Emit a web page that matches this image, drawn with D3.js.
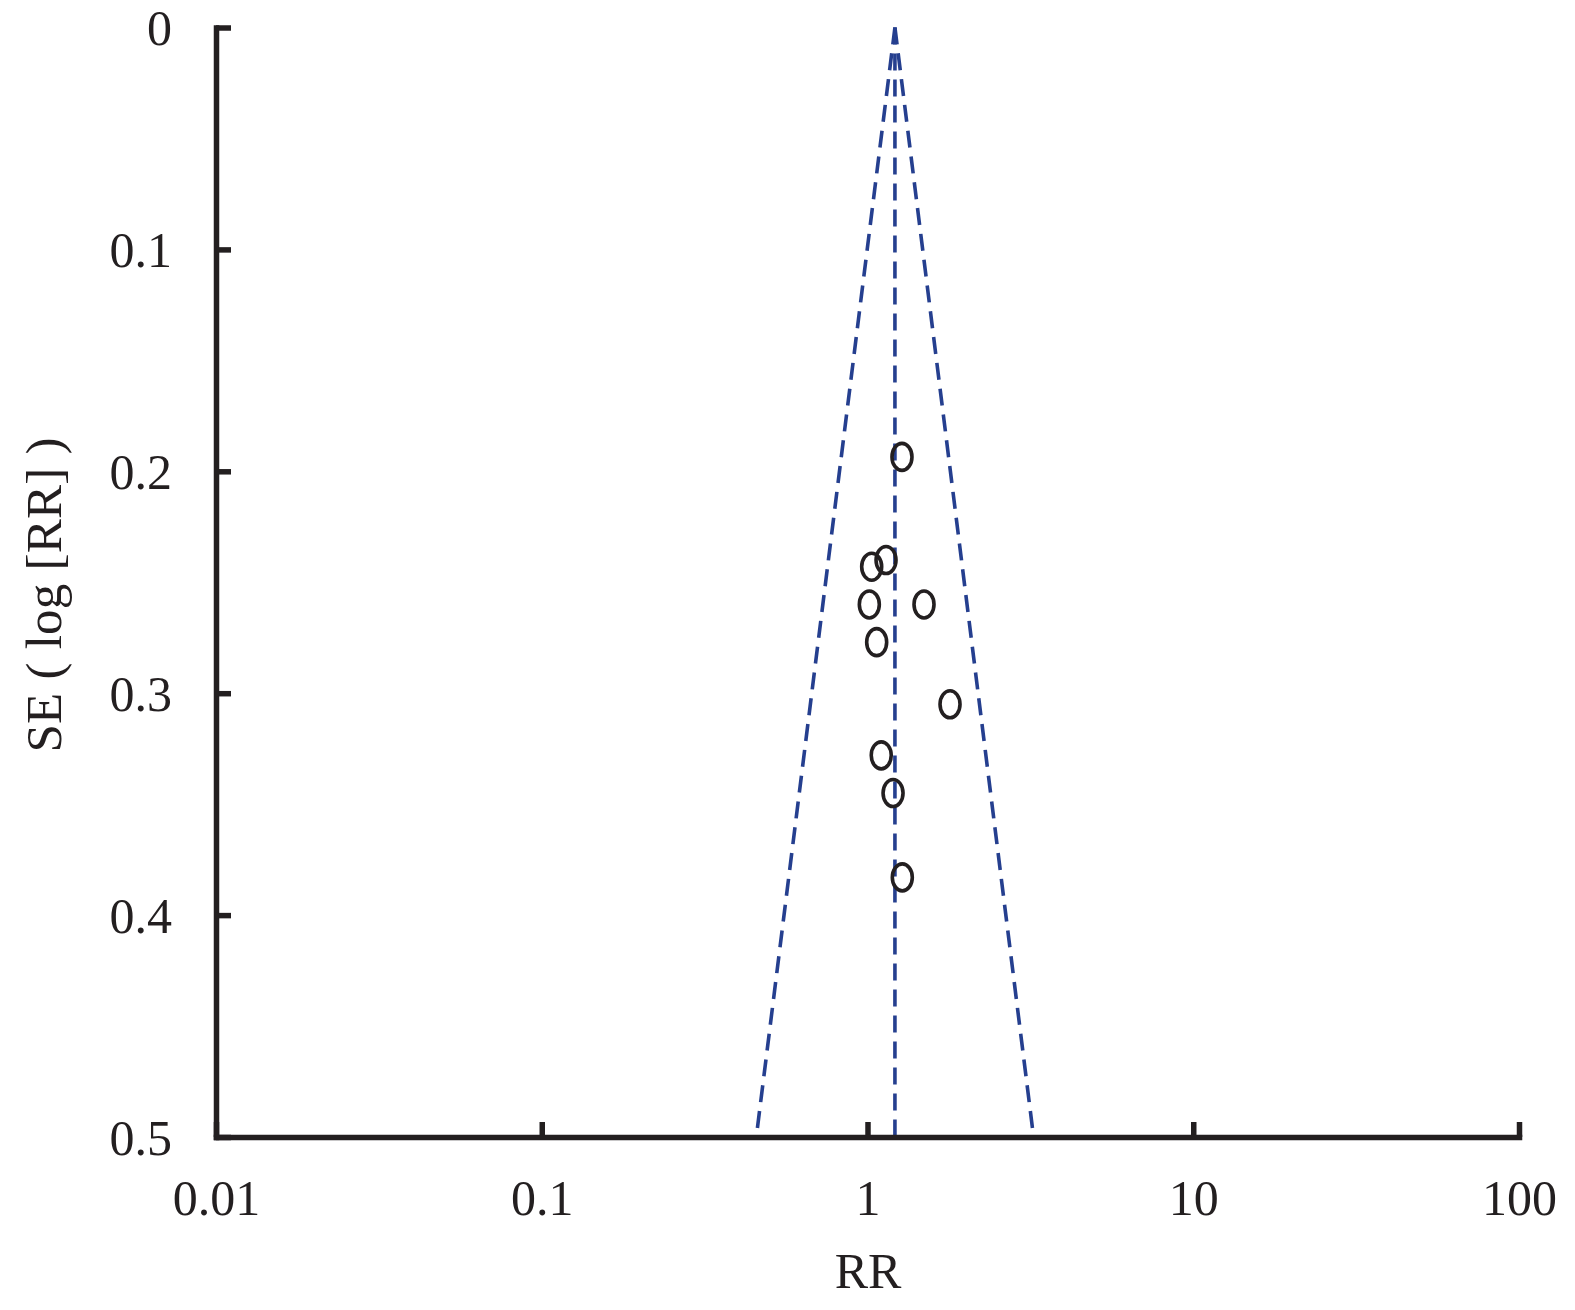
<!DOCTYPE html>
<html>
<head>
<meta charset="utf-8">
<script src="https://cdn.jsdelivr.net/npm/d3@7"></script>
<style>
  html, body { margin: 0; padding: 0; background: #fff; }
  svg { display: block; }
  text { font-family: "Liberation Serif", "DejaVu Serif", serif; fill: #231f20; }
</style>
</head>
<body>
<svg id="chart" width="1575" height="1310"></svg>
<script>
// ---- data ----
const studyRR = [1.276, 1.140, 1.030, 1.013, 1.491, 1.067, 1.792, 1.102, 1.198, 1.279];
const studySE = [0.1935, 0.240, 0.243, 0.260, 0.260, 0.277, 0.305, 0.328, 0.345, 0.383];
const pooledRR = 1.214;
const funnelSE = [0, 0.5];
const zValue = 1.96;
const xTicks = [0.01, 0.1, 1, 10, 100];
const xTickLabels = ["0.01", "0.1", "1", "10", "100"];
const yTicks = [0, 0.1, 0.2, 0.3, 0.4, 0.5];
const yTickLabels = ["0", "0.1", "0.2", "0.3", "0.4", "0.5"];
const xTitle = "RR";
const yTitle = "SE ( log [RR] )";

// ---- layout ----
const svg = d3.select("#chart");
const axisColor = "#231f20";
const blue = "#253f8f";

const x = d3.scaleLog().domain([0.01, 100]).range([216, 1519]);
const y = d3.scaleLinear().domain([0, 0.5]).range([27.5, 1137]);

// funnel lines
const g = svg.append("g");
const lineGen = d3.line().x(d => x(d[0])).y(d => y(d[1]));
const leftLine = funnelSE.map(s => [Math.exp(Math.log(pooledRR) - zValue * s), s]);
const rightLine = funnelSE.map(s => [Math.exp(Math.log(pooledRR) + zValue * s), s]);
const centerLine = funnelSE.map(s => [pooledRR, s]);
[leftLine, rightLine, centerLine].forEach(pts => {
  g.append("path")
    .attr("d", lineGen(pts))
    .attr("fill", "none")
    .attr("stroke", blue)
    .attr("stroke-width", 3.6)
    .attr("stroke-dasharray", "17,9");
});

// points
g.selectAll("ellipse.pt")
  .data(studyRR.map((r, i) => ({ rr: r, se: studySE[i] })))
  .enter().append("ellipse")
  .attr("class", "pt")
  .attr("cx", d => x(d.rr))
  .attr("cy", d => y(d.se))
  .attr("rx", 10)
  .attr("ry", 13.5)
  .attr("fill", "none")
  .attr("stroke", axisColor)
  .attr("stroke-width", 3.6);

// y axis
const yAxis = d3.axisLeft(y)
  .tickValues(yTicks)
  .tickFormat((d, i) => yTickLabels[i])
  .tickSizeInner(-15)
  .tickSizeOuter(0)
  .tickPadding(44);
const gy = svg.append("g").attr("transform", "translate(216,0)").call(yAxis);

// x axis
const xAxis = d3.axisBottom(x)
  .tickValues(xTicks)
  .tickFormat((d, i) => xTickLabels[i])
  .tickSizeInner(-15)
  .tickSizeOuter(0)
  .tickPadding(42);
const gx = svg.append("g").attr("transform", "translate(0,1137)").call(xAxis);

[gx, gy].forEach(ax => {
  ax.select(".domain")
    .attr("stroke", axisColor)
    .attr("stroke-width", 5.5)
    .attr("stroke-linecap", "square");
  ax.selectAll(".tick line")
    .attr("stroke", axisColor)
    .attr("stroke-width", 5.5);
  ax.selectAll(".tick text")
    .attr("fill", axisColor)
    .style("font-family", "'Liberation Serif', 'DejaVu Serif', serif")
    .style("font-size", "50px");
});
gy.selectAll(".tick text").attr("dy", "0.34em");
gx.selectAll(".tick text").attr("dy", "0.71em");

// titles
svg.append("text")
  .attr("x", 868)
  .attr("y", 1288)
  .attr("text-anchor", "middle")
  .style("font-size", "50px")
  .text(xTitle);

svg.append("text")
  .attr("transform", "translate(61,595) rotate(-90)")
  .attr("text-anchor", "middle")
  .attr("textLength", 315)
  .attr("lengthAdjust", "spacing")
  .style("font-size", "51px")
  .text(yTitle);
</script>
</body>
</html>
